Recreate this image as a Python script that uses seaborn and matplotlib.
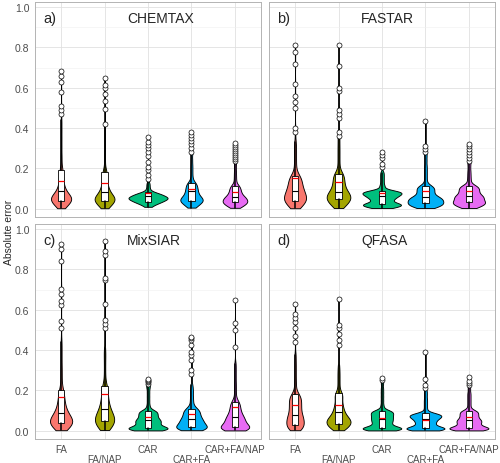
import numpy as np
import pandas as pd
import matplotlib
matplotlib.use('Agg')
import matplotlib.pyplot as plt
from matplotlib.ticker import MultipleLocator, FormatStrFormatter
from matplotlib.transforms import ScaledTranslation
import seaborn as sns


groups = ['FA', 'FA/NAP', 'CAR', 'CAR+FA', 'CAR+FA/NAP']
colors = ['#F8766D', '#A3A500', '#00BF7D', '#00B0F6', '#E76BF3']
methods = ['CHEMTAX', 'FASTAR', 'MixSIAR', 'QFASA']
tags = ['a)', 'b)', 'c)', 'd)']

# how many observations one body value stands for (below / above the upper quartile);
# every outlier is one observation
body_count = 8
tail_count = 3

# ---- CHEMTAX ----
chemtax_body = [
    [0.003, 0.01, 0.017, 0.023, 0.028, 0.032, 0.036, 0.04, 0.043, 0.046, 0.049, 0.052, 0.055, 0.058,
     0.061, 0.065, 0.069, 0.074, 0.08, 0.087, 0.095, 0.105, 0.117, 0.131, 0.148, 0.168, 0.19,
     0.21, 0.24, 0.27, 0.31, 0.35, 0.39, 0.43],
    [0.003, 0.01, 0.017, 0.023, 0.028, 0.032, 0.036, 0.04, 0.043, 0.046, 0.049, 0.052, 0.055, 0.058,
     0.062, 0.066, 0.071, 0.077, 0.084, 0.092, 0.1, 0.11, 0.122, 0.136, 0.152, 0.17, 0.185,
     0.2, 0.23, 0.26, 0.29, 0.33, 0.37, 0.41],
    [0.01, 0.02, 0.026, 0.03, 0.033, 0.036, 0.039, 0.042, 0.045, 0.047, 0.049, 0.051, 0.053, 0.055,
     0.057, 0.059, 0.061, 0.064, 0.067, 0.07, 0.073, 0.076, 0.08, 0.085, 0.092, 0.1, 0.11, 0.12, 0.13],
    [0.006, 0.015, 0.022, 0.028, 0.033, 0.037, 0.04, 0.044, 0.048, 0.052, 0.056, 0.061, 0.067, 0.074,
     0.081, 0.088, 0.096, 0.104, 0.112, 0.121, 0.13, 0.145, 0.16, 0.18, 0.2, 0.22, 0.245, 0.275],
    [0.005, 0.012, 0.018, 0.023, 0.027, 0.031, 0.034, 0.037, 0.041, 0.045, 0.049, 0.053, 0.057, 0.061,
     0.067, 0.074, 0.081, 0.089, 0.097, 0.106, 0.115, 0.128, 0.142, 0.157, 0.173, 0.19, 0.21, 0.23],
]
chemtax_out = [
    [0.47, 0.49, 0.51, 0.58, 0.63, 0.66, 0.685],
    [0.42, 0.495, 0.535, 0.57, 0.6, 0.615, 0.65],
    [0.15, 0.17, 0.19, 0.205, 0.23, 0.26, 0.28, 0.3, 0.315, 0.33, 0.355],
    [0.28, 0.3, 0.32, 0.335, 0.35, 0.365, 0.38],
    [0.235, 0.245, 0.255, 0.265, 0.275, 0.285, 0.295, 0.305, 0.315, 0.325],
]
chemtax_q1 = [0.04, 0.04, 0.036, 0.04, 0.033]
chemtax_med = [0.09, 0.085, 0.063, 0.09, 0.06]
chemtax_q3 = [0.19, 0.185, 0.083, 0.13, 0.115]
chemtax_whi = [0.44, 0.41, 0.14, 0.28, 0.23]
chemtax_mean = [0.14, 0.13, 0.078, 0.1, 0.085]

# ---- FASTAR ----
fastar_body = [
    [0.003, 0.013, 0.022, 0.03, 0.036, 0.042, 0.047, 0.052, 0.057, 0.063, 0.069, 0.076, 0.083,
     0.09, 0.098, 0.106, 0.115, 0.125, 0.135, 0.145, 0.155, 0.165, 0.185, 0.205, 0.23, 0.255, 0.28, 0.305, 0.33],
    [0.004, 0.015, 0.024, 0.031, 0.037, 0.042, 0.047, 0.052, 0.057, 0.062, 0.067, 0.072, 0.077, 0.083,
     0.091, 0.1, 0.11, 0.12, 0.131, 0.142, 0.154, 0.166, 0.175, 0.195, 0.22, 0.245, 0.27, 0.295, 0.32, 0.35],
    [0.004, 0.009, 0.013, 0.017, 0.02, 0.023, 0.025, 0.031, 0.038, 0.045, 0.051, 0.056, 0.061, 0.066,
     0.069, 0.073, 0.077, 0.08, 0.083, 0.087, 0.09, 0.1, 0.11, 0.12, 0.135, 0.15, 0.165, 0.18],
    [0.004, 0.01, 0.015, 0.019, 0.023, 0.027, 0.03, 0.034, 0.039, 0.043, 0.047, 0.051, 0.055, 0.058,
     0.066, 0.074, 0.083, 0.091, 0.099, 0.107, 0.115, 0.135, 0.155, 0.175, 0.195, 0.215, 0.24, 0.265],
    [0.004, 0.011, 0.017, 0.022, 0.026, 0.03, 0.033, 0.038, 0.043, 0.048, 0.053, 0.058, 0.062, 0.066,
     0.073, 0.08, 0.087, 0.094, 0.101, 0.108, 0.115, 0.128, 0.142, 0.157, 0.173, 0.19, 0.21, 0.23],
]
fastar_out = [
    [0.38, 0.4, 0.5, 0.53, 0.56, 0.62, 0.72, 0.775, 0.81],
    [0.36, 0.38, 0.45, 0.47, 0.49, 0.585, 0.6, 0.71, 0.81],
    [0.205, 0.22, 0.25, 0.265, 0.28],
    [0.28, 0.295, 0.31, 0.437],
    [0.235, 0.25, 0.265, 0.28, 0.295, 0.31, 0.32],
]
fastar_q1 = [0.04, 0.05, 0.025, 0.03, 0.033]
fastar_med = [0.09, 0.085, 0.066, 0.058, 0.066]
fastar_q3 = [0.165, 0.175, 0.09, 0.115, 0.115]
fastar_whi = [0.33, 0.35, 0.18, 0.265, 0.23]
fastar_mean = [0.155, 0.135, 0.08, 0.09, 0.086]

# ---- MixSIAR ----
mixsiar_body = [
    [0.003, 0.01, 0.017, 0.023, 0.028, 0.032, 0.036, 0.04, 0.044, 0.048, 0.052, 0.056, 0.06, 0.064,
     0.069, 0.075, 0.082, 0.09, 0.099, 0.109, 0.12, 0.133, 0.148, 0.165, 0.183, 0.2,
     0.23, 0.26, 0.29, 0.32, 0.36, 0.4, 0.44],
    [0.004, 0.012, 0.02, 0.027, 0.033, 0.038, 0.043, 0.048, 0.053, 0.058, 0.063, 0.068, 0.073, 0.079,
     0.085, 0.092, 0.1, 0.109, 0.119, 0.13, 0.142, 0.156, 0.172, 0.19, 0.205, 0.22,
     0.245, 0.27, 0.3, 0.33, 0.36, 0.385, 0.41],
    [0.002, 0.005, 0.008, 0.01, 0.012, 0.014, 0.015, 0.021, 0.027, 0.033, 0.039, 0.044, 0.049, 0.053,
     0.059, 0.066, 0.073, 0.08, 0.087, 0.094, 0.1, 0.115, 0.13, 0.15, 0.17, 0.19, 0.21, 0.225],
    [0.003, 0.007, 0.011, 0.014, 0.016, 0.018, 0.02, 0.026, 0.032, 0.038, 0.043, 0.048, 0.053, 0.058,
     0.065, 0.072, 0.08, 0.088, 0.095, 0.103, 0.11, 0.125, 0.14, 0.155, 0.17, 0.19, 0.205, 0.225],
    [0.002, 0.006, 0.009, 0.012, 0.014, 0.016, 0.017, 0.022, 0.028, 0.034, 0.04, 0.046, 0.052, 0.058,
     0.064, 0.07, 0.078, 0.087, 0.097, 0.108, 0.12, 0.132, 0.145, 0.165, 0.19, 0.215, 0.24, 0.27, 0.3, 0.33],
]
mixsiar_out = [
    [0.51, 0.545, 0.625, 0.645, 0.68, 0.705, 0.84, 0.9, 0.925],
    [0.51, 0.53, 0.55, 0.63, 0.745, 0.755, 0.87, 0.89, 0.94],
    [0.23, 0.24, 0.245, 0.25, 0.257],
    [0.28, 0.3, 0.35, 0.375, 0.39, 0.425, 0.45, 0.46, 0.465],
    [0.415, 0.5, 0.535, 0.65],
]
mixsiar_q1 = [0.04, 0.05, 0.015, 0.02, 0.017]
mixsiar_med = [0.09, 0.11, 0.053, 0.058, 0.07]
mixsiar_q3 = [0.2, 0.22, 0.1, 0.11, 0.145]
mixsiar_whi = [0.44, 0.41, 0.225, 0.225, 0.33]
mixsiar_mean = [0.17, 0.18, 0.07, 0.085, 0.12]

# ---- QFASA ----
qfasa_body = [
    [0.003, 0.01, 0.017, 0.024, 0.03, 0.037, 0.044, 0.051, 0.058, 0.065, 0.072, 0.08, 0.09, 0.1,
     0.11, 0.12, 0.13, 0.14, 0.15, 0.16, 0.17, 0.18, 0.2, 0.225, 0.25, 0.28, 0.31, 0.34, 0.375],
    [0.003, 0.01, 0.016, 0.022, 0.027, 0.032, 0.036, 0.04, 0.044, 0.048, 0.052, 0.056, 0.061, 0.066,
     0.072, 0.079, 0.087, 0.096, 0.106, 0.117, 0.13, 0.144, 0.16, 0.175, 0.185,
     0.2, 0.22, 0.24, 0.26, 0.28, 0.3, 0.325],
    [0.002, 0.005, 0.008, 0.01, 0.012, 0.014, 0.015, 0.021, 0.028, 0.035, 0.042, 0.048, 0.054, 0.06,
     0.066, 0.072, 0.078, 0.084, 0.09, 0.095, 0.1, 0.115, 0.13, 0.15, 0.17, 0.19, 0.21, 0.235],
    [0.002, 0.005, 0.008, 0.01, 0.012, 0.014, 0.015, 0.022, 0.029, 0.036, 0.042, 0.048, 0.054, 0.06,
     0.064, 0.068, 0.072, 0.076, 0.079, 0.083, 0.086, 0.1, 0.115, 0.13, 0.145, 0.16, 0.178, 0.195],
    [0.002, 0.005, 0.008, 0.01, 0.012, 0.014, 0.015, 0.021, 0.027, 0.033, 0.039, 0.044, 0.049, 0.053,
     0.059, 0.066, 0.073, 0.08, 0.087, 0.094, 0.1, 0.115, 0.13, 0.145, 0.16, 0.175, 0.19, 0.21],
]
qfasa_out = [
    [0.44, 0.47, 0.51, 0.54, 0.56, 0.58, 0.63],
    [0.425, 0.45, 0.48, 0.51, 0.525, 0.655],
    [0.25, 0.263],
    [0.21, 0.225, 0.255, 0.39],
    [0.225, 0.235, 0.245, 0.265],
]
qfasa_q1 = [0.03, 0.035, 0.015, 0.015, 0.015]
qfasa_med = [0.078, 0.095, 0.06, 0.06, 0.053]
qfasa_q3 = [0.18, 0.185, 0.1, 0.086, 0.1]
qfasa_whi = [0.375, 0.325, 0.235, 0.195, 0.21]
qfasa_mean = [0.13, 0.13, 0.065, 0.055, 0.07]


panels = [
    (chemtax_body, chemtax_out, chemtax_q1, chemtax_med, chemtax_q3, chemtax_whi, chemtax_mean),
    (fastar_body, fastar_out, fastar_q1, fastar_med, fastar_q3, fastar_whi, fastar_mean),
    (mixsiar_body, mixsiar_out, mixsiar_q1, mixsiar_med, mixsiar_q3, mixsiar_whi, mixsiar_mean),
    (qfasa_body, qfasa_out, qfasa_q1, qfasa_med, qfasa_q3, qfasa_whi, qfasa_mean),
]


def make_frame(body, out, q3):
    rows = []
    for g, b, o, top in zip(groups, body, out, q3):
        rows += [(g, v, body_count if v <= top else tail_count) for v in b]
        rows += [(g, v, 1) for v in o]
    df = pd.DataFrame(rows, columns=['group', 'error', 'n'])
    return df.loc[df.index.repeat(df.n)].reset_index(drop=True)


def make_stats(body, out, q1, med, q3, whi, mean):
    stats = []
    for i in range(len(groups)):
        stats.append(dict(q1=q1[i], med=med[i], q3=q3[i], whislo=min(body[i]),
                          whishi=whi[i], mean=mean[i], fliers=out[i]))
    return stats


sns.set_style('whitegrid')
plt.rcParams['font.family'] = ['Liberation Sans', 'DejaVu Sans']

fig, axes = plt.subplots(2, 2, figsize=(5, 4.64), dpi=100, sharex=True, sharey=True)
fig.subplots_adjust(left=0.07, right=0.99, bottom=0.052, top=0.9935, wspace=0.035, hspace=0.033)

for k, ax in enumerate(axes.flat):
    body, out, q1, med, q3, whi, mean = panels[k]
    df = make_frame(body, out, q3)

    sns.violinplot(data=df, x='group', y='error', hue='group', order=groups, hue_order=groups,
                   palette=colors, saturation=1, inner=None, cut=0, density_norm='area',
                   common_norm=True, width=0.9, linecolor='black', linewidth=0.65,
                   bw_adjust=0.5, legend=False, ax=ax)

    ax.bxp(make_stats(body, out, q1, med, q3, whi, mean), positions=range(len(groups)),
           widths=0.15, patch_artist=True, showmeans=True, meanline=True, showcaps=False,
           boxprops=dict(facecolor='white', edgecolor='black', linewidth=0.6),
           medianprops=dict(color='black', linewidth=0.8),
           meanprops=dict(color='red', linestyle='-', linewidth=0.9),
           whiskerprops=dict(color='black', linewidth=1.1),
           flierprops=dict(marker='o', markerfacecolor='white', markeredgecolor='black',
                           markersize=3.6, markeredgewidth=0.5),
           zorder=3)

    ax.text(-0.26, 0.945, tags[k], fontsize=10.5, ha='center', va='center')
    ax.text(1.52, 0.945, methods[k], fontsize=10, ha='left', va='center')

    ax.set_xlim(-0.6, 4.6)
    ax.set_ylim(-0.04, 1.025)
    ax.yaxis.set_major_locator(MultipleLocator(0.2))
    ax.yaxis.set_minor_locator(MultipleLocator(0.1))
    ax.yaxis.set_major_formatter(FormatStrFormatter('%.1f'))
    ax.set_xticks(range(len(groups)))
    ax.set_xlabel('')
    ax.set_ylabel('')
    ax.grid(which='major', color='#E0E0E0', linewidth=0.6)
    ax.grid(which='minor', axis='y', color='#EFEFEF', linewidth=0.4)
    ax.set_axisbelow(True)
    ax.tick_params(axis='both', which='major', length=2.5, width=0.5, color='#B3B3B3',
                   labelsize=7.5, labelcolor='#4D4D4D', pad=1.5)
    ax.tick_params(which='minor', length=0)
    for s in ax.spines.values():
        s.set_color('#B3B3B3')
        s.set_linewidth(0.7)

# bottom row: category names, every second one one line lower
shift_down = ScaledTranslation(0, -0.1, fig.dpi_scale_trans)
for ax in axes[1]:
    ax.set_xticklabels(groups)
    ax.tick_params(axis='x', labelbottom=True, labelsize=7, pad=1.5, length=2)
    for i, lab in enumerate(ax.get_xticklabels()):
        if i % 2 == 1:
            lab.set_transform(lab.get_transform() + shift_down)

fig.text(0.018, 0.5, 'Absolute error', rotation=90, va='center', ha='center', fontsize=7.5)

fig.savefig('out.png', dpi=100)
